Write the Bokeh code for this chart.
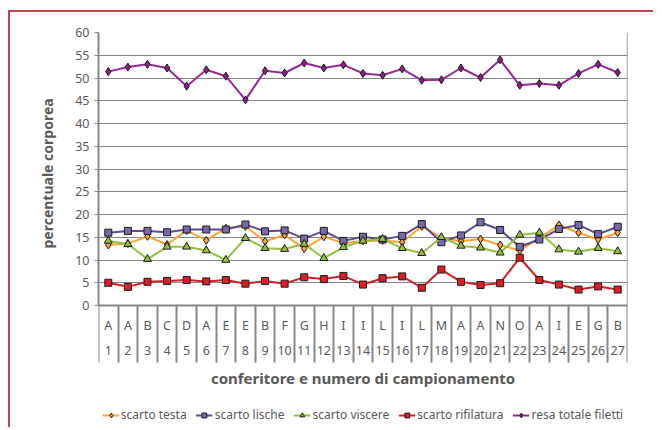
from bokeh.plotting import figure
from bokeh.layouts import column
from bokeh.models import (LinearAxis, FixedTicker, Range1d, Legend, LegendItem, Title)
from bokeh.embed import file_html
from bokeh.resources import INLINE

letters = ["A", "A", "B", "C", "D", "A", "E", "E", "B", "F", "G", "H", "I", "I",
           "L", "I", "L", "M", "A", "A", "N", "O", "A", "I", "E", "G", "B"]
numbers = [str(i) for i in range(1, 28)]
y_ticks = [0, 5, 10, 15, 20, 25, 30, 35, 40, 45, 50, 55, 60]

scarto_testa = [13.3, 13.6, 15.2, 13.4, 16.5, 14.3, 17.0, 17.4, 14.1, 15.5, 12.5, 15.1, 13.7, 14.2,
                14.3, 13.9, 17.4, 14.9, 14.1, 14.6, 13.3, 12.1, 14.8, 17.7, 16.0, 14.5, 16.0]
scarto_lische = [16.0, 16.4, 16.4, 16.1, 16.7, 16.7, 16.7, 17.8, 16.3, 16.5, 14.7, 16.4, 14.2, 15.1,
                 14.5, 15.3, 17.9, 13.9, 15.4, 18.3, 16.6, 12.9, 14.5, 16.8, 17.7, 15.7, 17.3]
scarto_viscere = [14.2, 13.5, 10.2, 12.9, 12.9, 12.1, 10.0, 14.8, 12.6, 12.4, 13.5, 10.4, 12.8, 14.2,
                  14.6, 12.6, 11.5, 15.0, 13.1, 12.7, 11.6, 15.5, 16.0, 12.3, 11.8, 12.6, 11.9]
scarto_rifilatura = [5.0, 4.1, 5.2, 5.4, 5.6, 5.3, 5.6, 4.8, 5.4, 4.8, 6.2, 5.8, 6.5, 4.6,
                     6.0, 6.4, 3.9, 7.9, 5.2, 4.5, 4.9, 10.5, 5.6, 4.6, 3.5, 4.2, 3.5]
resa_totale = [51.4, 52.4, 53.0, 52.2, 48.2, 51.8, 50.4, 45.2, 51.6, 51.1, 53.3, 52.2, 52.9, 51.0,
               50.6, 52.0, 49.5, 49.6, 52.2, 50.1, 54.0, 48.4, 48.8, 48.4, 51.0, 53.0, 51.2]

series_names = ["scarto testa", "scarto lische", "scarto viscere", "scarto rifilatura",
                "resa totale filetti"]

FONT = "Noto Sans"
TXT = "#595959"
GRID = "#868686"

n = len(letters)
xs = list(range(1, n + 1))
bounds = [i + 0.5 for i in range(0, n + 1)]
y_top = y_ticks[-1]

# plot area: 0..60 occupies 273 px; the frame continues 120 px lower to hold
# the category labels, the axis title and the legend
PLOT_PX = 273
BELOW_PX = 120
y_min = -y_top * BELOW_PX / PLOT_PX

p = figure(output_backend="svg", toolbar_location=None,
           x_range=Range1d(0.5, n + 0.5), y_range=Range1d(y_min, y_top),
           x_axis_location=None, y_axis_location="left",
           min_border_left=88, min_border_right=26, min_border_top=20, min_border_bottom=2)
p.frame_width = 529
p.frame_height = PLOT_PX + BELOW_PX
p.background_fill_color = "white"
p.border_fill_color = "white"
p.outline_line_color = None

# y axis
ya = p.yaxis[0]
ya.ticker = FixedTicker(ticks=y_ticks)
ya.bounds = (0, y_top)
ya.axis_line_color = GRID
ya.axis_line_width = 2
ya.major_tick_line_color = GRID
ya.major_tick_out = 4
ya.major_tick_in = 0
ya.minor_tick_line_color = None
ya.major_label_text_font = FONT
ya.major_label_text_font_size = "12.5px"
ya.major_label_text_color = TXT
ya.major_label_standoff = 5

# y axis title, centred on the 0..60 part of the frame
ytitle = Title(text="percentuale corporea", align="left", offset=BELOW_PX + 57,
               vertical_align="bottom", standoff=32,
               text_font=FONT, text_font_size="14px", text_font_style="bold",
               text_color=TXT)
p.add_layout(ytitle, "left")

p.xgrid.visible = False
p.ygrid.grid_line_color = GRID
p.ygrid.grid_line_width = 1

# right border of the plot area
yr = LinearAxis(ticker=FixedTicker(ticks=[]), bounds=(0, y_top), fixed_location=n + 0.5,
                axis_line_color=GRID, axis_line_width=1.5,
                major_tick_line_color=None, minor_tick_line_color=None)
p.add_layout(yr, "right")

# category axes at y = 0: letters with separators, then sample numbers
axA = LinearAxis(ticker=FixedTicker(ticks=xs, minor_ticks=bounds), fixed_location=0,
                 major_label_overrides={x: l for x, l in zip(xs, letters)},
                 axis_line_color=GRID, axis_line_width=2,
                 major_tick_line_color=None, major_tick_out=0, major_tick_in=0,
                 minor_tick_line_color=GRID, minor_tick_line_width=2,
                 minor_tick_out=57, minor_tick_in=0,
                 major_label_standoff=-46,
                 major_label_text_font=FONT, major_label_text_font_size="12.5px",
                 major_label_text_color=TXT)
axB = LinearAxis(ticker=FixedTicker(ticks=xs), fixed_location=0,
                 major_label_overrides={x: s for x, s in zip(xs, numbers)},
                 axis_line_color=None, major_tick_line_color=None,
                 major_tick_out=0, major_tick_in=0, minor_tick_line_color=None,
                 major_label_standoff=40,
                 major_label_text_font=FONT, major_label_text_font_size="12.5px",
                 major_label_text_color=TXT,
                 axis_label="conferitore e numero di campionamento",
                 axis_label_text_font=FONT, axis_label_text_font_size="15px",
                 axis_label_text_font_style="bold", axis_label_text_color=TXT,
                 axis_label_standoff=10)
p.add_layout(axA, "below")
p.add_layout(axB, "below")

styles = [
    (scarto_testa, "#F9A530", "#F9A530", "diamond", 8),
    (scarto_lische, "#5F4B8B", "#7B68AC", "square", 7),
    (scarto_viscere, "#92C13E", "#92C13E", "triangle", 8),
    (scarto_rifilatura, "#D42029", "#DD1E27", "square", 7),
    (resa_totale, "#952A95", "#8A1E8A", "diamond", 8),
]

items = []
for name, (vals, lc, fc, mk, sz) in zip(series_names, styles):
    lr = p.line(xs, vals, line_color=lc, line_width=2)
    sr = p.scatter(xs, vals, marker=mk, size=sz, fill_color=fc, line_color="#1a1a1a",
                   line_width=1)
    items.append(LegendItem(label=name, renderers=[lr, sr]))

legend = Legend(items=items, orientation="horizontal", location="bottom",
                border_line_color=None, background_fill_alpha=0,
                label_text_font=FONT, label_text_font_size="12px",
                label_text_color=TXT, glyph_width=17, glyph_height=12,
                label_standoff=2, spacing=9, padding=0, margin=2)
p.add_layout(legend)

# outer document frame (red border lines at left and top)
page = column(p, margin=(10, 0, 0, 8),
              styles={"border-top": "2px solid #C54350",
                      "border-left": "2px solid #C54350"})

open("out.html", "w").write(file_html(page, INLINE))
